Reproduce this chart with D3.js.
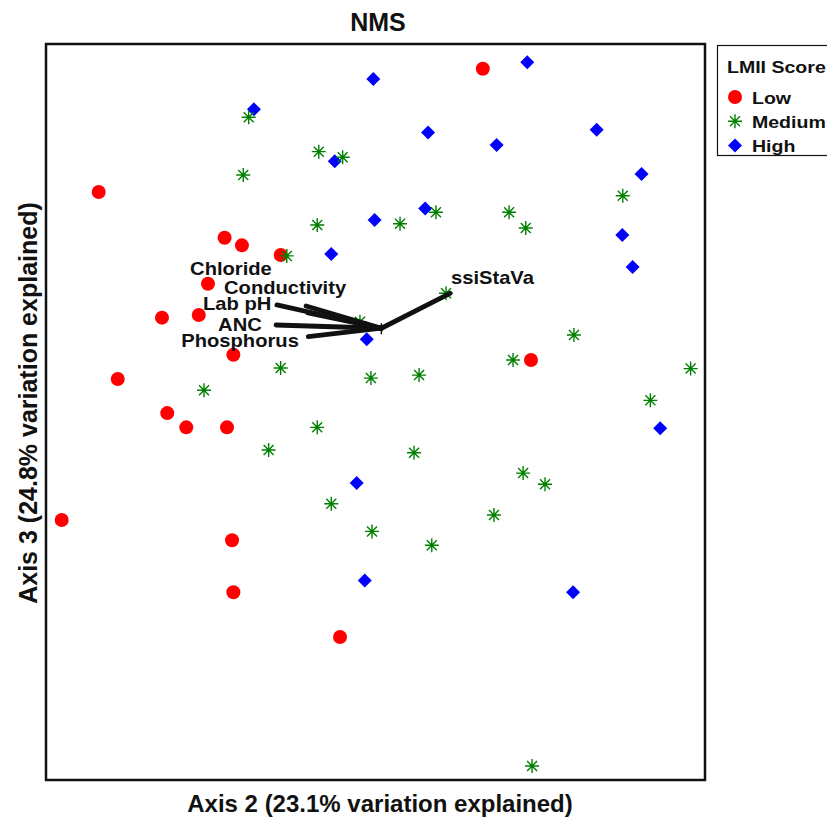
<!DOCTYPE html>
<html>
<head>
<meta charset="utf-8">
<script src="https://cdn.jsdelivr.net/npm/d3@7"></script>
<style>
  body { margin: 0; background: #fff; }
  svg { display: block; }
  text { font-family: "Liberation Sans", Arial, sans-serif; font-weight: bold; fill: #111; }
</style>
</head>
<body>
<svg id="chart" width="827" height="820"></svg>
<script>
// NMS site scores (Axis 2 vs Axis 3), grouped by LMII score
const lowX = [0.49, -1.264, -0.689, -0.610, -0.433, -0.765, -0.975, -0.807, -0.649, -1.177, -0.951, -0.864, -0.678, -1.433, -0.655, -0.649, -0.162, 0.710];
const lowY = [1.59, 1.019, 0.807, 0.772, 0.727, 0.594, 0.437, 0.449, 0.265, 0.153, -0.005, -0.071, -0.071, -0.500, -0.594, -0.835, -1.042, 0.241];

const highX = [-0.555, -0.010, 0.693, 0.240, 0.553, 1.010, 1.215, -0.186, -0.004, 0.227, -0.202, 1.127, 1.174, -0.040, 1.300, -0.086, -0.049, 0.902];
const highY = [1.402, 1.542, 1.620, 1.295, 1.237, 1.308, 1.102, 1.161, 0.889, 0.943, 0.732, 0.820, 0.672, 0.337, -0.075, -0.329, -0.781, -0.835];

const mediumX = [-0.579, -0.259, -0.150, -0.604, -0.266, -0.405, 0.112, 0.276, 0.610, 0.686, 1.129, 0.322, -0.071, 0.906, 0.628, 1.439, -0.433, -0.021, 0.199, -0.783, 1.255, -0.266, -0.488, 0.176, 0.674, 0.774, -0.202, 0.541, -0.016, 0.257, 0.715];
const mediumY = [1.365, 1.206, 1.180, 1.098, 0.866, 0.723, 0.872, 0.925, 0.925, 0.852, 1.002, 0.550, 0.418, 0.357, 0.241, 0.201, 0.204, 0.157, 0.171, 0.101, 0.054, -0.071, -0.176, -0.189, -0.283, -0.335, -0.425, -0.477, -0.553, -0.617, -1.640];

// Joint-plot environmental vectors (drawn from the common origin)
const vectorOriginX = 0.027;
const vectorOriginY = 0.388;
const vectorNames = ["Chloride", "Conductivity", "Lab pH", "ANC", "Phosphorus", "ssiStaVa"];
const vectorX = [-0.317, -0.308, -0.450, -0.454, -0.307, 0.340];
const vectorY = [0.491, 0.459, 0.496, 0.403, 0.349, 0.550];

const legendTitle = "LMII Score";
const groupNames = ["Low", "Medium", "High"];

// ---- layout ----
const svg = d3.select("#chart");
const plot = { left: 47, right: 704, top: 45, bottom: 779 };
const labelOffset = {   // pixel offset of each vector label from its tip
  "Chloride": [-116, -31], "Conductivity": [-84, -19], "Lab pH": [-74, 5],
  "ANC": [-58, 6], "Phosphorus": [-127, 10], "ssiStaVa": [1, -9]
};
const colors = { Low: "#ff0000", Medium: "#008000", High: "#0000ff" };

svg.append("rect").attr("width", 827).attr("height", 820).attr("fill", "#fff");

const x = d3.scaleLinear().domain([-1.5, 1.5]).range([plot.left, plot.right]);
const y = d3.scaleLinear().domain([-1.7, 1.7]).range([plot.bottom, plot.top]);

// symbol drawers
const starPath = "M-7,0H7M0,-7V7M-5,-5L5,5M-5,5L5,-5";
const diamondPath = "M0,-7L7,0L0,7L-7,0Z";

function drawCircle(g, cx, cy) {
  g.append("circle").attr("cx", cx).attr("cy", cy).attr("r", 7).attr("fill", colors.Low);
}
function drawStar(g, cx, cy) {
  g.append("path").attr("d", starPath).attr("transform", `translate(${cx},${cy})`)
    .attr("fill", "none").attr("stroke", colors.Medium).attr("stroke-width", 1.4);
}
function drawDiamond(g, cx, cy) {
  g.append("path").attr("d", diamondPath).attr("transform", `translate(${cx},${cy})`)
    .attr("fill", colors.High);
}

// wide-set label text
function wideText(g, str, tx, ty, size, sx, anchor) {
  g.append("text").attr("transform", `translate(${tx},${ty}) scale(${sx},1)`)
    .attr("font-size", size).attr("text-anchor", anchor || "start").text(str);
}

// points
const pts = svg.append("g");
lowX.forEach((v, i) => drawCircle(pts, x(v), y(lowY[i])));
highX.forEach((v, i) => drawDiamond(pts, x(v), y(highY[i])));
mediumX.forEach((v, i) => drawStar(pts, x(v), y(mediumY[i])));

// vectors
const vec = svg.append("g");
const ox = x(vectorOriginX), oy = y(vectorOriginY);
vectorNames.forEach((name, i) => {
  vec.append("line")
    .attr("x1", ox).attr("y1", oy)
    .attr("x2", x(vectorX[i])).attr("y2", y(vectorY[i]))
    .attr("stroke", "#111").attr("stroke-width", 4.8).attr("stroke-linecap", "round");
});
vec.append("line").attr("x1", ox).attr("x2", ox).attr("y1", oy - 5).attr("y2", oy + 6)
  .attr("stroke", "#111").attr("stroke-width", 1.5);
vectorNames.forEach((name, i) => {
  const off = labelOffset[name];
  wideText(vec, name, x(vectorX[i]) + off[0], y(vectorY[i]) + off[1], 18, 1.12);
});

// frame
svg.append("rect")
  .attr("x", plot.left - 1).attr("y", plot.top - 1)
  .attr("width", plot.right - plot.left + 2).attr("height", plot.bottom - plot.top + 2)
  .attr("fill", "none").attr("stroke", "#111").attr("stroke-width", 2.5);

// titles
svg.append("text").attr("x", 378).attr("y", 31).attr("text-anchor", "middle")
  .attr("font-size", 25).text("NMS");
svg.append("text").attr("x", 380).attr("y", 812).attr("text-anchor", "middle")
  .attr("font-size", 24).text("Axis 2 (23.1% variation explained)");
svg.append("text").attr("transform", "translate(37,403) rotate(-90)").attr("text-anchor", "middle")
  .attr("font-size", 25).text("Axis 3 (24.8% variation explained)");

// legend
const lg = svg.append("g");
lg.append("rect").attr("x", 717.5).attr("y", 45.5).attr("width", 120).attr("height", 110)
  .attr("fill", "#fff").attr("stroke", "#111").attr("stroke-width", 1.2);
wideText(lg, legendTitle, 727, 73, 17, 1.15);
const drawers = { Low: drawCircle, Medium: drawStar, High: drawDiamond };
groupNames.forEach((name, i) => {
  const cy = 97 + i * 24.3;
  drawers[name](lg, 735, cy);
  wideText(lg, name, 752, cy + 6.5, 17, 1.15);
});
</script>
</body>
</html>
